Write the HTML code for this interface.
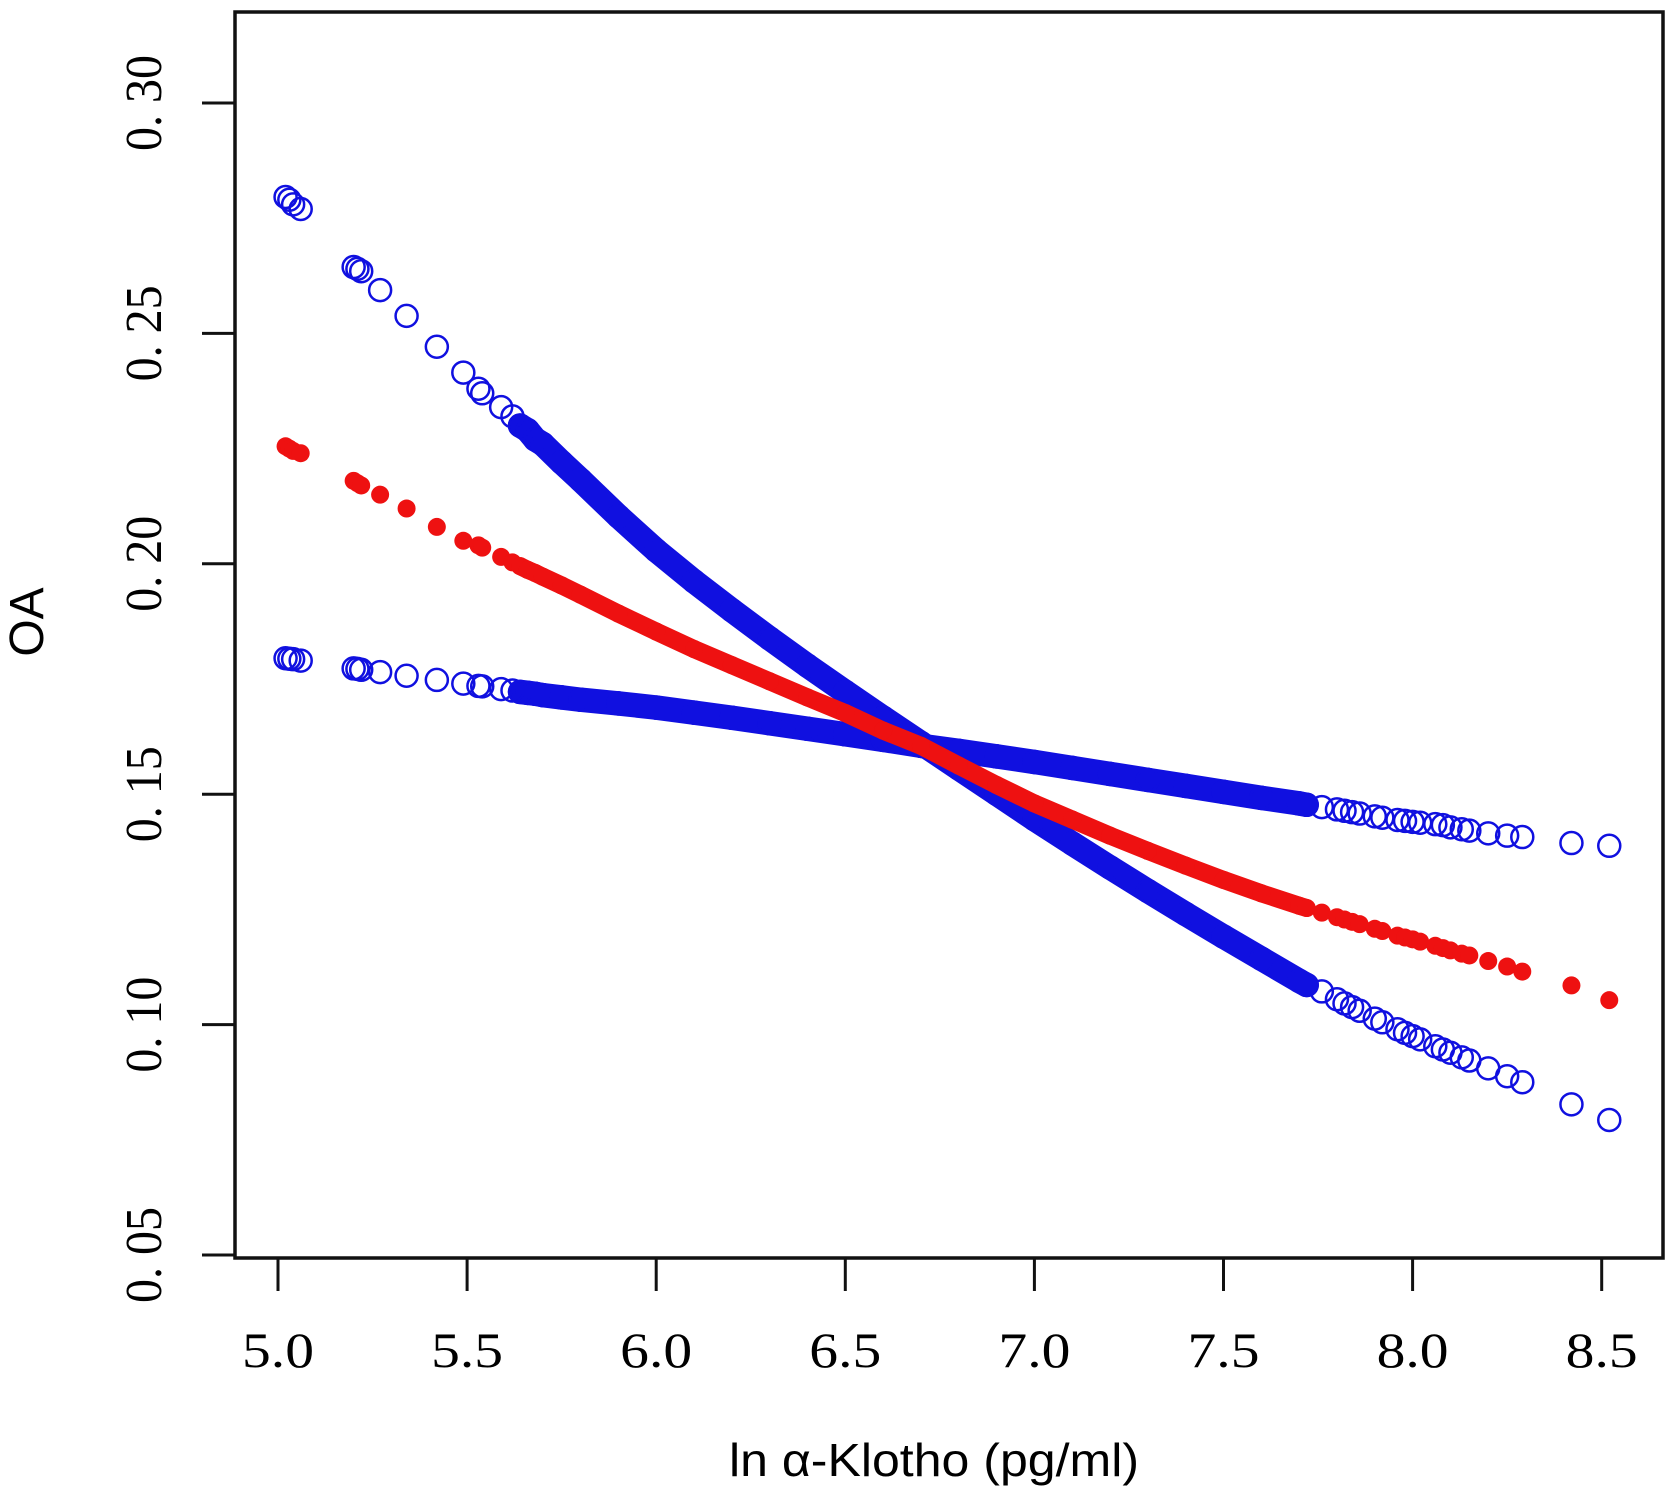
<!DOCTYPE html>
<html><head><meta charset="utf-8">
<style>
html,body{margin:0;padding:0;background:#fff;}
svg{display:block;}
</style></head>
<body>
<svg id="chart" width="1675" height="1498" viewBox="0 0 1675 1498" xmlns="http://www.w3.org/2000/svg">
<rect width="1675" height="1498" fill="#fff"/>
<g id="marks"></g>
<rect x="235" y="12" width="1428" height="1246" fill="none" stroke="#111" stroke-width="3.5"/>
<g id="axes"></g>
<text x="934" y="1476" text-anchor="middle" font-family="Liberation Sans, sans-serif" font-size="46" textLength="410" lengthAdjust="spacingAndGlyphs" fill="#000">ln α-Klotho (pg/ml)</text>
<text transform="translate(43,622) rotate(-90)" text-anchor="middle" font-family="Liberation Sans, sans-serif" font-size="48" fill="#000">OA</text>
</svg>
<script>
const xTicks = [5.0, 5.5, 6.0, 6.5, 7.0, 7.5, 8.0, 8.5];
const xTickLabels = ["5.0", "5.5", "6.0", "6.5", "7.0", "7.5", "8.0", "8.5"];
const yTicks = [0.05, 0.10, 0.15, 0.20, 0.25, 0.30];
const yTickLabels = ["0. 05", "0. 10", "0. 15", "0. 20", "0. 25", "0. 30"];

const klotho = [5.02,5.03,5.04,5.06,5.2,5.21,5.22,5.27,5.34,5.42,5.49,5.53,5.54,5.59,5.62,5.64,5.66,5.68,5.7,5.75,5.8,5.9,6.0,6.1,6.2,6.3,6.4,6.5,6.6,6.7,6.8,6.9,7.0,7.1,7.2,7.3,7.4,7.5,7.6,7.7,7.72,7.76,7.8,7.82,7.84,7.86,7.9,7.92,7.96,7.98,8.0,8.02,8.06,8.08,8.1,8.13,8.15,8.2,8.25,8.29,8.42,8.52];

const fitOA = [0.2255,0.225,0.2245,0.224,0.218,0.2175,0.217,0.215,0.212,0.208,0.205,0.204,0.2035,0.2015,0.2003,0.1995,0.1987,0.198,0.1972,0.1953,0.1933,0.1892,0.1853,0.1815,0.178,0.1745,0.171,0.1676,0.1638,0.1605,0.1562,0.152,0.148,0.1445,0.141,0.1377,0.1345,0.1314,0.1285,0.1258,0.1253,0.1243,0.1233,0.1228,0.1223,0.1218,0.1208,0.1203,0.1193,0.1189,0.1185,0.118,0.1171,0.1166,0.1161,0.1154,0.115,0.1138,0.1126,0.1115,0.1085,0.1053];

const upperCI = [0.2796,0.279,0.278,0.277,0.2644,0.264,0.2635,0.2594,0.2538,0.2471,0.2415,0.238,0.237,0.234,0.232,0.230,0.229,0.227,0.226,0.222,0.2182,0.2103,0.2029,0.1962,0.1899,0.1838,0.1779,0.1722,0.1666,0.1611,0.1556,0.1501,0.1446,0.1393,0.1341,0.129,0.124,0.1191,0.1143,0.1095,0.1086,0.1072,0.1055,0.1046,0.1038,0.103,0.1013,0.1005,0.099,0.0982,0.0975,0.0968,0.0953,0.0946,0.0939,0.0929,0.0922,0.0905,0.0888,0.0875,0.0827,0.0793];

const lowerCI = [0.1795,0.1794,0.1793,0.179,0.1773,0.1772,0.177,0.1765,0.1757,0.1748,0.174,0.1735,0.1734,0.1728,0.1725,0.1722,0.172,0.1718,0.1715,0.171,0.1705,0.1697,0.1688,0.1677,0.1666,0.1654,0.1642,0.163,0.1618,0.1605,0.1594,0.1582,0.157,0.1557,0.1544,0.1531,0.1518,0.1505,0.1492,0.148,0.1477,0.1472,0.1467,0.1464,0.1461,0.1458,0.1452,0.1449,0.1444,0.1442,0.144,0.1438,0.1435,0.1433,0.1428,0.1424,0.1421,0.1415,0.141,0.1407,0.1394,0.1388];

const NS = "http://www.w3.org/2000/svg";
function xScale(v){ return 278 + (v - 5.0) * 378.2; }
function yScale(v){ return 103 + (0.30 - v) / 0.05 * 230.4; }
const marks = document.getElementById('marks');
const axes = document.getElementById('axes');

function drawSeries(name, ys, color, filled, r){
  const g = document.createElementNS(NS,'g');
  
  
  marks.appendChild(g);
  for (let i = 1; i < klotho.length; i++){
    if (klotho[i-1] >= 5.64 && klotho[i] <= 7.72 && klotho[i]-klotho[i-1] <= 0.11){
      const l = document.createElementNS(NS,'line');
      
      
      l.setAttribute('x1', xScale(klotho[i-1])); l.setAttribute('y1', yScale(ys[i-1]));
      l.setAttribute('x2', xScale(klotho[i])); l.setAttribute('y2', yScale(ys[i]));
      l.setAttribute('stroke', color);
      l.setAttribute('stroke-width', filled ? 2*r : 2*r+2.5);
      l.setAttribute('stroke-linecap', 'round');
      g.appendChild(l);
    }
  }
  for (let i = 0; i < klotho.length; i++){
    const c = document.createElementNS(NS,'circle');
    
    
    c.setAttribute('cx', xScale(klotho[i]));
    c.setAttribute('cy', yScale(ys[i]));
    c.setAttribute('r', r);
    if (filled){ c.setAttribute('fill', color); }
    else { c.setAttribute('fill', 'none'); c.setAttribute('stroke', color); c.setAttribute('stroke-width', 2.5); }
    g.appendChild(c);
  }
}
drawSeries('upper-ci-series', upperCI, '#1010e0', false, 11);
drawSeries('lower-ci-series', lowerCI, '#1010e0', false, 11);
drawSeries('fit-series', fitOA, '#ee1111', true, 9);

for (let i = 0; i < xTicks.length; i++){
  const x = xScale(xTicks[i]);
  const t = document.createElementNS(NS,'line');
  
  
  t.setAttribute('x1', x); t.setAttribute('x2', x);
  t.setAttribute('y1', 1258); t.setAttribute('y2', 1291);
  t.setAttribute('stroke', '#111'); t.setAttribute('stroke-width', 3);
  axes.appendChild(t);
  const lb = document.createElementNS(NS,'text');
  
  
  lb.setAttribute('x', x); lb.setAttribute('y', 1367);
  lb.setAttribute('text-anchor', 'middle');
  lb.setAttribute('font-family', 'Liberation Serif, serif');
  lb.setAttribute('font-size', '50');
  lb.setAttribute('textLength', '72');
  lb.setAttribute('lengthAdjust', 'spacingAndGlyphs');
  lb.textContent = xTickLabels[i];
  axes.appendChild(lb);
}
for (let i = 0; i < yTicks.length; i++){
  const y = yScale(yTicks[i]);
  const t = document.createElementNS(NS,'line');
  
  
  t.setAttribute('x1', 202); t.setAttribute('x2', 235);
  t.setAttribute('y1', y); t.setAttribute('y2', y);
  t.setAttribute('stroke', '#111'); t.setAttribute('stroke-width', 3);
  axes.appendChild(t);
  const lb = document.createElementNS(NS,'text');
  
  
  lb.setAttribute('transform', 'translate(161,' + y + ') rotate(-90)');
  lb.setAttribute('text-anchor', 'middle');
  lb.setAttribute('font-family', 'Liberation Serif, serif');
  lb.setAttribute('font-size', '52');
  lb.setAttribute('textLength', '96');
  lb.setAttribute('lengthAdjust', 'spacingAndGlyphs');
  lb.textContent = yTickLabels[i];
  axes.appendChild(lb);
}
</script>
</body></html>
